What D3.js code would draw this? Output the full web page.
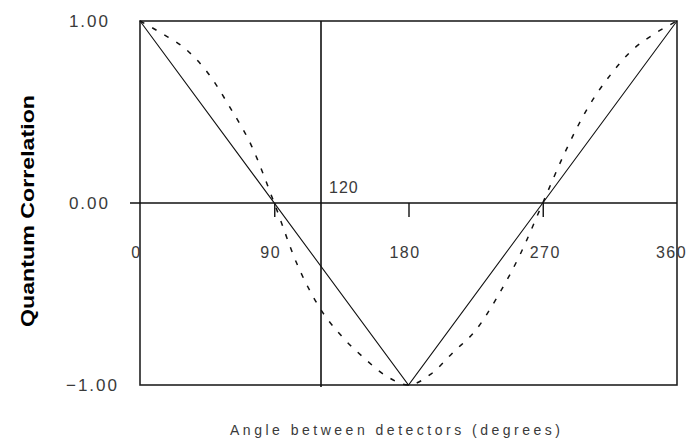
<!DOCTYPE html>
<html>
<head>
<meta charset="utf-8">
<script src="https://cdn.jsdelivr.net/npm/d3@7"></script>
<style>
  body { margin: 0; background: #fff; }
  svg { display: block; }
  .tick text { font-family: "Liberation Sans", Arial, sans-serif; fill: #3a3a3a; }
</style>
</head>
<body>
<svg width="687" height="441"></svg>
<script>
// angle between detectors (degrees)
var angles = [0, 15, 30, 45, 60, 75, 90, 105, 120, 135, 150, 165, 180,
              195, 210, 225, 240, 255, 270, 285, 300, 315, 330, 345, 360];
// quantum correlation (dashed curve)
var quantum = [1.00, 0.93, 0.85, 0.72, 0.53, 0.31, 0.00, -0.33, -0.57, -0.73, -0.85, -0.95, -1.00,
               -0.94, -0.82, -0.70, -0.51, -0.28, 0.00, 0.28, 0.52, 0.70, 0.84, 0.93, 1.00];
// linear correlation (solid line)
var linearAngles = [0, 180, 360];
var linear = [1, -1, 1];

var xTicks = [0, 90, 180, 270, 360];
var yTicks = [-1, 0, 1];
var markAngle = 120;

var svg = d3.select("svg");
var x = d3.scaleLinear().domain([0, 360]).range([140, 677]);
var y = d3.scaleLinear().domain([-1, 1]).range([385, 21]);

// frame
svg.append("rect")
    .attr("x", x(0))
    .attr("y", y(1))
    .attr("width", x(360) - x(0))
    .attr("height", y(-1) - y(1))
    .attr("fill", "none")
    .attr("stroke", "#222")
    .attr("stroke-width", 1.6);

// x axis on the zero line
var xAxis = svg.append("g")
    .attr("transform", "translate(0," + y(0) + ")")
    .call(d3.axisBottom(x).tickValues(xTicks).tickSize(14).tickPadding(30)
      .tickFormat(d3.format("d")));
xAxis.select(".domain").remove();
xAxis.selectAll(".tick line").attr("stroke", "#111").attr("stroke-width", 1.4)
    .filter(function(d) { return d == 0 || d == 360; }).remove();
xAxis.selectAll(".tick text")
    .attr("font-size", 16)
    .attr("letter-spacing", 1.5)
    .attr("dx", function(d) { return d == 270 ? 2 : (d == 360 ? -6 : -4); });

svg.append("line")
    .attr("x1", x(0) - 10)
    .attr("x2", x(360))
    .attr("y1", y(0))
    .attr("y2", y(0))
    .attr("stroke", "#111")
    .attr("stroke-width", 1.6);

// y axis labels
var yAxis = svg.append("g")
    .attr("transform", "translate(" + x(0) + ",0)")
    .call(d3.axisLeft(y).tickValues(yTicks).tickSize(0).tickPadding(30)
      .tickFormat(d3.format(".2f")));
yAxis.select(".domain").remove();
yAxis.selectAll(".tick text")
    .attr("font-size", 17)
    .attr("letter-spacing", 2)
    .attr("dx", function(d) { return d == -1 ? 9 : 0; });

// vertical marker at 120 degrees
svg.append("line")
    .attr("x1", x(markAngle) + 2)
    .attr("x2", x(markAngle) + 2)
    .attr("y1", y(1))
    .attr("y2", y(-1) + 2)
    .attr("stroke", "#111")
    .attr("stroke-width", 1.6);

svg.append("text")
    .attr("x", x(markAngle) + 10)
    .attr("y", y(0) - 10)
    .attr("font-family", "Liberation Sans, Arial, sans-serif")
    .attr("font-size", 16)
    .attr("letter-spacing", 1)
    .attr("fill", "#3a3a3a")
    .text("120");

// solid line
var lineData = linearAngles.map(function(a, i) { return [a, linear[i]]; });
svg.append("path")
    .datum(lineData)
    .attr("fill", "none")
    .attr("stroke", "#111")
    .attr("stroke-width", 1.1)
    .attr("d", d3.line()
      .x(function(d) { return x(d[0]); })
      .y(function(d) { return y(d[1]); }));

// dashed curve
var curveData = angles.map(function(a, i) { return [a, quantum[i]]; });
svg.append("path")
    .datum(curveData)
    .attr("fill", "none")
    .attr("stroke", "#111")
    .attr("stroke-width", 1.5)
    .attr("stroke-dasharray", "5,9")
    .attr("d", d3.line()
      .curve(d3.curveMonotoneX)
      .x(function(d) { return x(d[0]); })
      .y(function(d) { return y(d[1]); }));

// axis titles
svg.append("text")
    .attr("transform", "translate(34,211) rotate(-90)")
    .attr("text-anchor", "middle")
    .attr("font-family", "Liberation Sans, Arial, sans-serif")
    .attr("font-weight", "bold")
    .attr("font-size", 19)
    .attr("textLength", 232)
    .attr("lengthAdjust", "spacingAndGlyphs")
    .attr("fill", "#000")
    .text("Quantum Correlation");

svg.append("text")
    .attr("x", 395)
    .attr("y", 435)
    .attr("text-anchor", "middle")
    .attr("font-family", "Liberation Sans, Arial, sans-serif")
    .attr("font-size", 14)
    .attr("textLength", 330)
    .attr("fill", "#3a3a3a")
    .text("Angle between detectors (degrees)");
</script>
</body>
</html>
